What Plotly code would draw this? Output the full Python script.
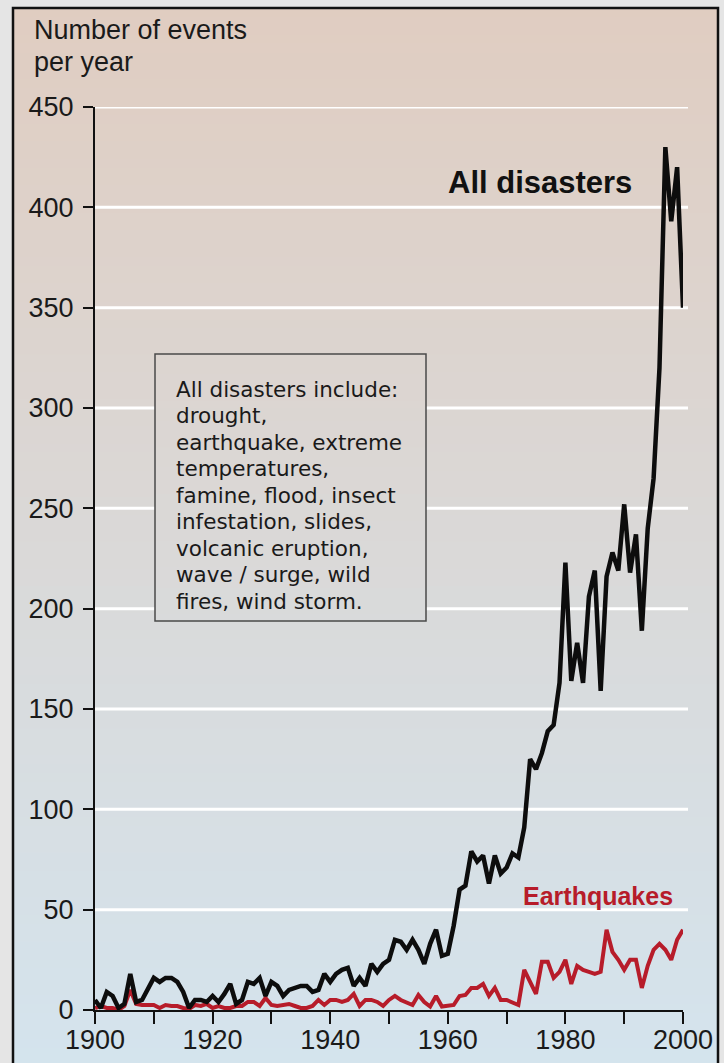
import plotly.graph_objects as go

# ---------------- data ----------------
years = list(range(1900, 2001))

all_disasters = [
    5, 1, 9, 7, 1, 3, 18, 4, 5, 11,            # 1900-1909
    16, 14, 16, 16, 14, 9, 1, 5, 5, 4,         # 1910-1919
    7, 4, 8, 13, 3, 5, 14, 13, 16, 7,          # 1920-1929
    14, 12, 7, 10, 11, 12, 12, 9, 10, 18,      # 1930-1939
    14, 18, 20, 21, 12, 16, 12, 23, 19, 23,    # 1940-1949
    25, 35, 34, 30, 35, 30, 23, 33, 40, 27,    # 1950-1959
    28, 42, 60, 62, 79, 74, 77, 63, 77, 68,    # 1960-1969
    71, 78, 76, 91, 125, 120, 128, 139, 142, 163,  # 1970-1979
    223, 164, 183, 163, 206, 219, 159, 216, 228, 219,  # 1980-1989
    252, 218, 237, 189, 240, 265, 320, 430, 393, 420,  # 1990-1999
    350,                                        # 2000
]

earthquakes = [
    1, 2, 1, 1, 0, 2, 10, 3, 2.5, 2.5,         # 1900-1909
    2.5, 1, 2.5, 2, 2, 1, 0.5, 2.5, 2, 3,      # 1910-1919
    1, 2, 1, 1, 2, 2, 4, 4, 2, 6,              # 1920-1929
    2.5, 2, 2.5, 3, 2, 1, 1, 2, 5, 2.5,        # 1930-1939
    5, 5, 4, 5, 8, 2, 5, 5, 4, 2,              # 1940-1949
    5, 7, 5, 4, 2.5, 7.5, 4, 1.7, 7, 1.7,      # 1950-1959
    2, 2.5, 7, 7.5, 11, 11, 13, 7, 11, 5,      # 1960-1969
    5, 4, 2.5, 20, 14, 8, 24, 24, 16, 19,      # 1970-1979
    25, 13, 22, 20, 19, 18, 19, 40, 29, 25,    # 1980-1989
    20, 25, 25, 11, 22, 30, 33, 30, 25, 35,    # 1990-1999
    40,                                         # 2000
]

y_tick_values = [0, 50, 100, 150, 200, 250, 300, 350, 400, 450]
x_tick_values = [1900, 1910, 1920, 1930, 1940, 1950, 1960, 1970, 1980, 1990, 2000]
x_tick_labels = ["1900", "", "1920", "", "1940", "", "1960", "", "1980", "", "2000"]

title_lines = ["Number of events", "per year"]
box_lines = [
    "All disasters include:",
    "drought,",
    "earthquake, extreme",
    "temperatures,",
    "famine, flood, insect",
    "infestation, slides,",
    "volcanic eruption,",
    "wave / surge, wild",
    "fires, wind storm.",
]
label_all = "All disasters"
label_eq = "Earthquakes"

# ---------------- layout helpers (pixel -> paper) ----------------
W, H = 724, 1063
L, R, T, B = 95, 41, 107, 53
PW, PH = W - L - R, H - T - B


def xp(px):
    return (px - L) / PW


def yp(py):
    return (H - B - py) / PH


TOP_C = (224, 205, 193)
BOT_C = (212, 228, 238)
PANEL_TOP, PANEL_BOT = 8, 1075


def grad_color(py):
    t = (py - PANEL_TOP) / (PANEL_BOT - PANEL_TOP)
    t = min(max(t, 0), 1)
    c = [round(a + (b - a) * t) for a, b in zip(TOP_C, BOT_C)]
    return "rgb({},{},{})".format(*c)


FONT = "Liberation Sans, Arial, Helvetica, sans-serif"
BOX_FONT = "DejaVu Sans, Verdana, sans-serif"
RED = "#b71c2a"

shapes = []

# panel gradient background
n_bands = 120
step = (PANEL_BOT - PANEL_TOP) / n_bands
for i in range(n_bands):
    y0 = PANEL_TOP + i * step
    y1 = y0 + step + 0.8
    shapes.append(dict(type="rect", xref="paper", yref="paper",
                       x0=xp(13), x1=xp(718), y0=yp(y1), y1=yp(y0),
                       fillcolor=grad_color(y0 + step / 2), line=dict(width=0),
                       layer="below"))

# white horizontal grid lines
for v in y_tick_values[1:]:
    shapes.append(dict(type="line", xref="paper", yref="y",
                       x0=0, x1=xp(688), y0=v, y1=v,
                       line=dict(color="white", width=3), layer="below"))

# note box (gradient fill + border)
BX0, BX1, BY0, BY1 = 155, 426, 354, 621
nb = 40
bstep = (BY1 - BY0) / nb
for i in range(nb):
    y0 = BY0 + i * bstep
    y1 = y0 + bstep + 0.8
    shapes.append(dict(type="rect", xref="paper", yref="paper",
                       x0=xp(BX0), x1=xp(BX1), y0=yp(min(y1, BY1)), y1=yp(y0),
                       fillcolor=grad_color(y0 + bstep / 2), line=dict(width=0),
                       layer="below"))
shapes.append(dict(type="rect", xref="paper", yref="paper",
                   x0=xp(BX0), x1=xp(BX1), y0=yp(BY1), y1=yp(BY0),
                   line=dict(color="#4a4a4a", width=1.5), fillcolor="rgba(0,0,0,0)",
                   layer="below"))

# panel frame
shapes.append(dict(type="rect", xref="paper", yref="paper",
                   x0=xp(13), x1=xp(718), y0=yp(PANEL_BOT), y1=yp(PANEL_TOP),
                   line=dict(color="#111111", width=2.5), fillcolor="rgba(0,0,0,0)",
                   layer="above"))

annotations = []
for i, t in enumerate(title_lines):
    annotations.append(dict(text=t, xref="paper", yref="paper",
                            x=xp(32), y=yp(30 + 32 * i), xanchor="left", yanchor="middle",
                            showarrow=False, font=dict(family=FONT, size=27, color="#1a1a1a")))
for i, t in enumerate(box_lines):
    annotations.append(dict(text=t, xref="paper", yref="paper",
                            x=xp(174), y=yp(389 + 26.5 * i), xanchor="left", yanchor="middle",
                            showarrow=False, font=dict(family=BOX_FONT, size=21.5, color="#1a1a1a")))
annotations.append(dict(text="<b>" + label_all + "</b>", xref="paper", yref="paper",
                        x=xp(540), y=yp(183), xanchor="center", yanchor="middle",
                        showarrow=False, font=dict(family=FONT, size=31, color="#111111")))
annotations.append(dict(text="<b>" + label_eq + "</b>", xref="paper", yref="paper",
                        x=xp(598), y=yp(896), xanchor="center", yanchor="middle",
                        showarrow=False, font=dict(family=FONT, size=25, color=RED)))

fig = go.Figure()
fig.add_trace(go.Scatter(x=years, y=earthquakes, mode="lines",
                         line=dict(color=RED, width=4), name=label_eq))
fig.add_trace(go.Scatter(x=years, y=all_disasters, mode="lines",
                         line=dict(color="#0d0d0d", width=4.5), name=label_all))

fig.update_layout(
    width=W, height=H,
    margin=dict(l=L, r=R, t=T, b=B, pad=0, autoexpand=False),
    paper_bgcolor="#e5e5e5",
    plot_bgcolor="rgba(0,0,0,0)",
    showlegend=False,
    shapes=shapes,
    annotations=annotations,
    font=dict(family=FONT, color="#1a1a1a"),
    xaxis=dict(range=[1900, 2000], tickmode="array", tickvals=x_tick_values,
               ticktext=x_tick_labels, ticks="outside", ticklen=12, tickwidth=2,
               tickcolor="#111111", showline=True, linecolor="#111111", linewidth=2,
               showgrid=False, zeroline=False, ticklabelstandoff=-7, automargin=False,
               tickfont=dict(family=FONT, size=27, color="#1a1a1a")),
    yaxis=dict(range=[0, 450], tickmode="array", tickvals=y_tick_values,
               ticks="outside", ticklen=10, tickwidth=1.5, tickcolor="#111111",
               showline=True, linecolor="#111111", linewidth=2,
               showgrid=False, zeroline=False, ticklabelstandoff=4, automargin=False,
               tickfont=dict(family=FONT, size=27, color="#1a1a1a")),
)

fig.write_html("out.html",
               config={"displayModeBar": False},
               post_script="document.body.style.margin='0';"
                           "document.body.style.overflow='hidden';")
